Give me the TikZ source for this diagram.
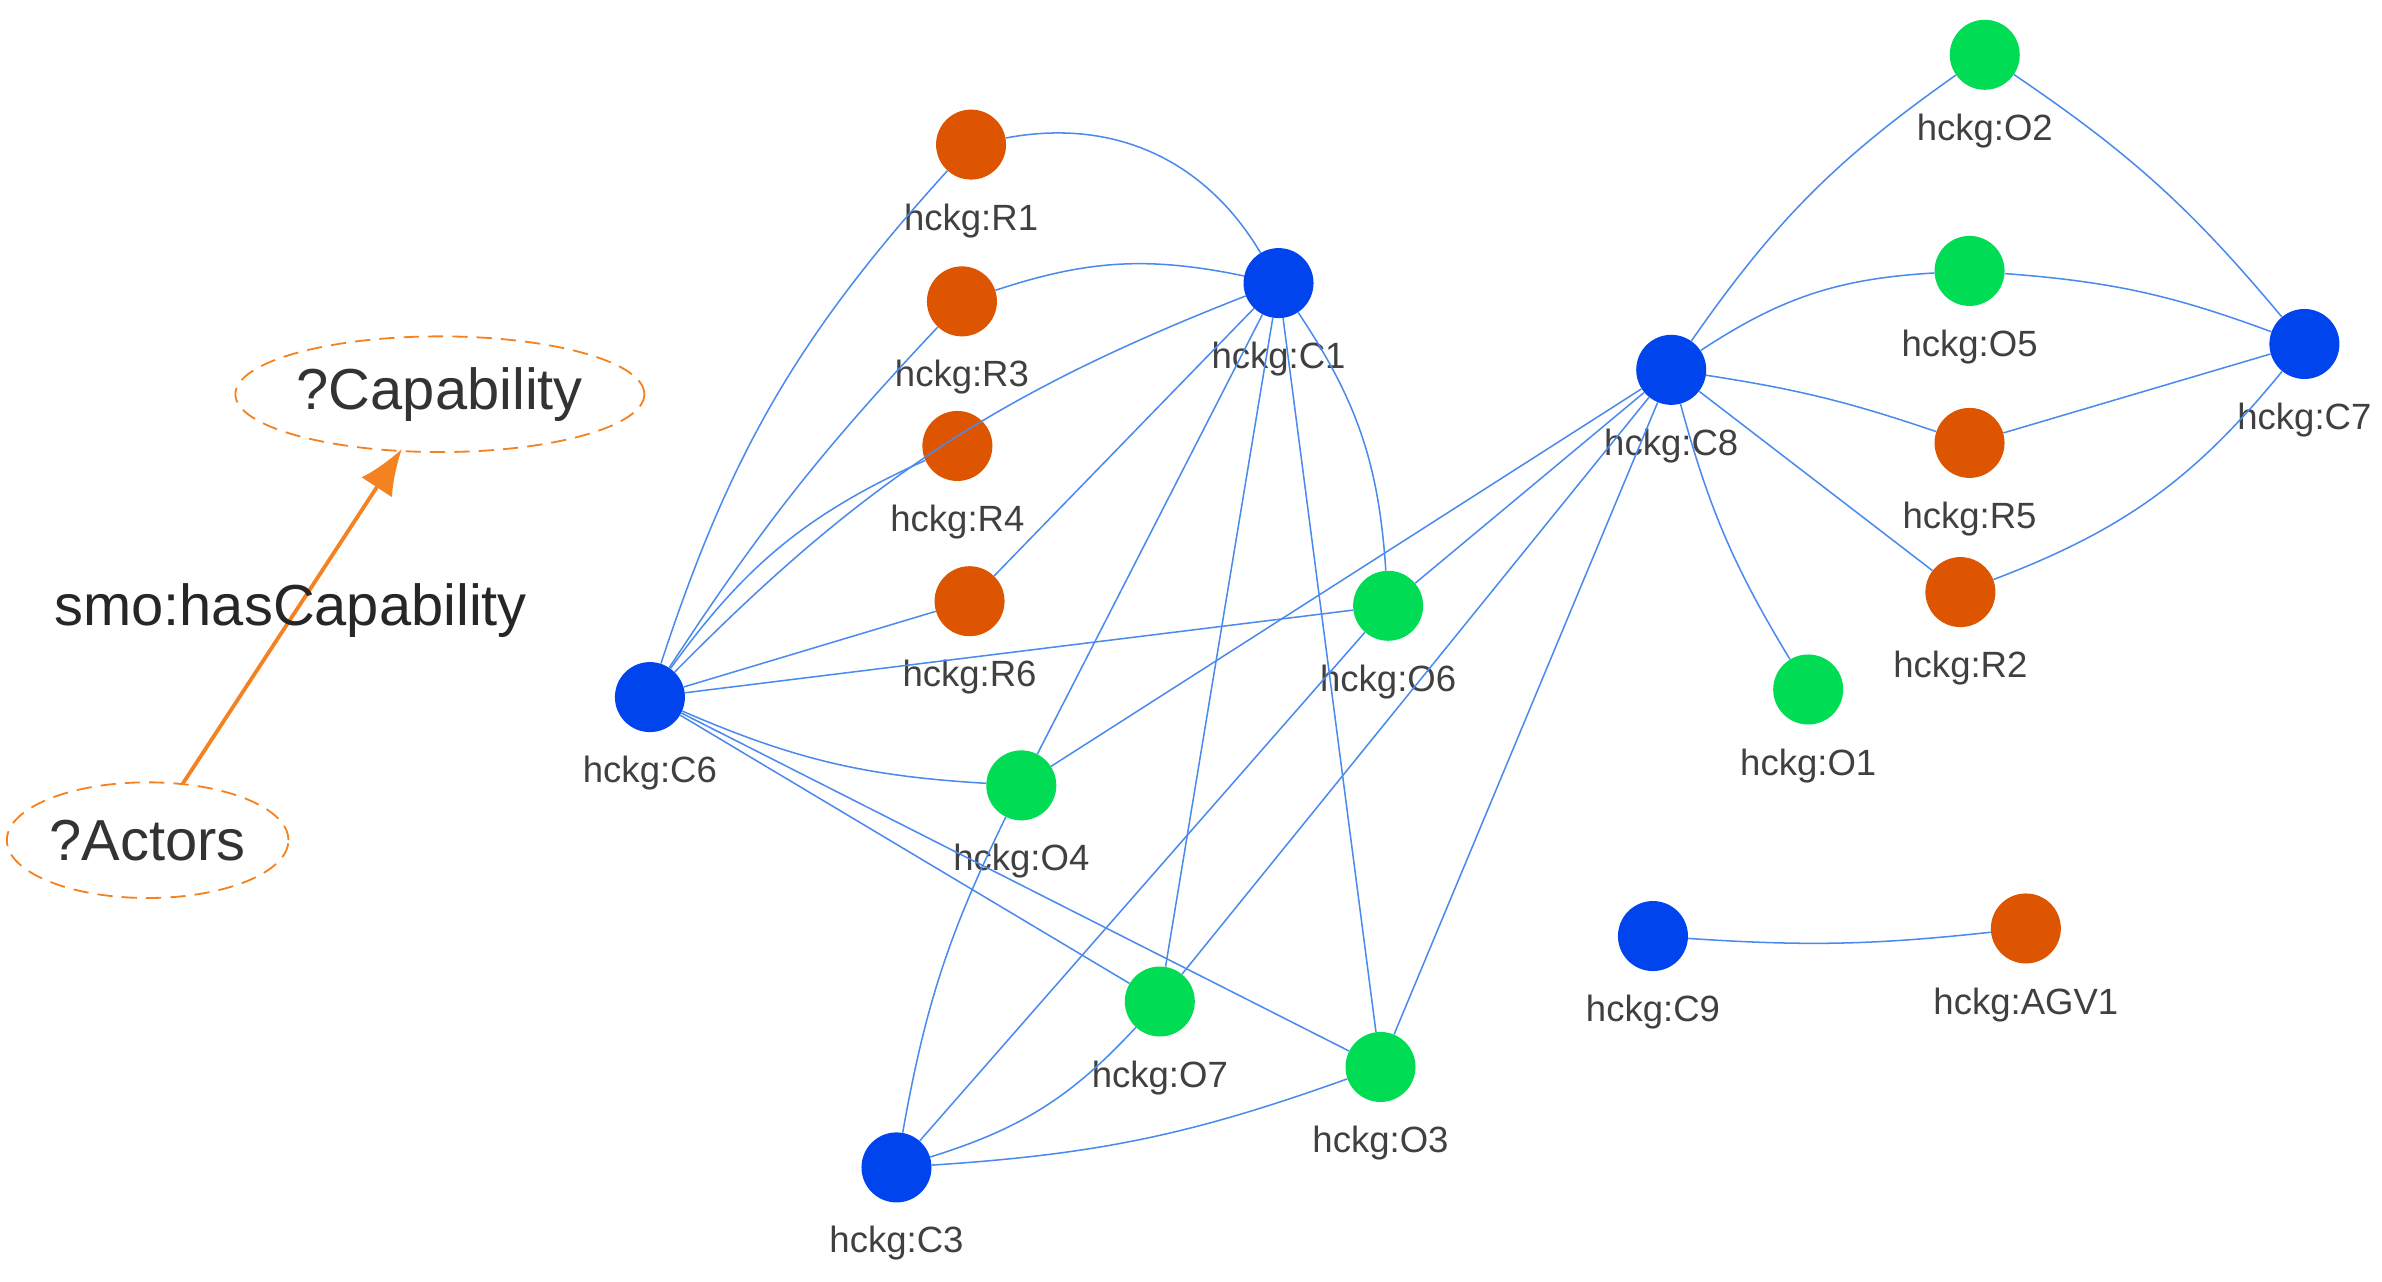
\documentclass[tikz,border=0pt]{standalone}
\usepackage{fontspec}
\setmainfont{Liberation Sans}
\usetikzlibrary{shapes.geometric,arrows.meta}
\definecolor{nb}{HTML}{0044EE}
\definecolor{ng}{HTML}{00DD55}
\definecolor{no}{HTML}{DD5500}
\definecolor{ed}{HTML}{4A8AEE}
\definecolor{lo}{HTML}{F58220}
\begin{document}
\begin{tikzpicture}[x=1pt,y=-1pt,
  n/.style={circle,minimum size=46pt,inner sep=0pt},
  B/.style={n,fill=nb},G/.style={n,fill=ng},O/.style={n,fill=no},
  lab/.style={font=\fontsize{24}{24}\selectfont,text=black!75},
  e/.style={draw=ed,line width=1pt},
  big/.style={font=\fontsize{38}{38}\selectfont,text=black!80},
  qv/.style={big,draw=lo,dash pattern=on 10pt off 6pt,ellipse,line width=1.2pt,minimum height=76pt,inner sep=1pt}]
\useasboundingbox (0,0) rectangle (1565,842);
\foreach \nm/\st/\x/\y in {R1/O/638/95,R3/O/632/198,R4/O/629/293,R6/O/637/395,C1/B/840/186,C6/B/427/458,O6/G/912/398,O4/G/671/516,O7/G/762/658,O3/G/907/701,C3/B/589/767,C8/B/1098/243,O2/G/1304/36,O5/G/1294/178,C7/B/1514/226,R5/O/1294/291,R2/O/1288/389,O1/G/1188/453,C9/B/1086/615,AGV1/O/1331/610}{
  \node[\st] (\nm) at (\x,\y) {};
  \node[lab] (\nm l) at (\x,\y+50) {hckg:\nm};
}
\draw[e] (R1) to[bend left=35] (C1);
\draw[e] (R3) to[bend left=15] (C1);
\draw[e] (C6) to[bend left=12] (R1);
\draw[e] (C6) to[bend left=5] (R3);
\draw[e] (C6) to[bend left=15] (R4);
\draw[e] (C6) -- (R6);
\draw[e] (C6) to[bend left=12] (C1);
\draw[e] (C1) -- (R6);
\draw[e] (C6) -- (O6);
\draw[e] (C6) to[bend right=10] (O4);
\draw[e] (C6) -- (O7);
\draw[e] (C6) -- (O3);
\draw[e] (C1) -- (O4);
\draw[e] (C1) -- (O7);
\draw[e] (C1) -- (O3);
\draw[e] (C1) to[bend left=15] (O6);
\draw[e] (C8) to[bend left=10] (O2);
\draw[e] (C8) to[bend left=15] (O5);
\draw[e] (C8) to[bend left=5] (R5);
\draw[e] (C8) -- (R2);
\draw[e] (C8) to[bend right=8] (O1);
\draw[e] (C8) -- (O6);
\draw[e] (C8) -- (O4);
\draw[e] (C8) -- (O7);
\draw[e] (C8) -- (O3);
\draw[e] (O2) to[bend left=8] (C7);
\draw[e] (O5) to[bend left=8] (C7);
\draw[e] (R5) -- (C7);
\draw[e] (R2) to[bend right=15] (C7);
\draw[e] (C3) to[bend left=8] (O4);
\draw[e] (C3) to[bend right=15] (O7);
\draw[e] (C3) to[bend right=8] (O3);
\draw[e] (C3) -- (O6);
\draw[e] (C9) to[bend right=5] (AGV1);
\node[qv,minimum width=230pt] (cap) at (289,259) {?Capability};
\node[qv,minimum width=170pt] (act) at (97,552) {?Actors};
\coordinate (as) at (120,515);
\coordinate (ae) at (264,295);
\draw[lo,line width=2.5pt,-{Latex[length=30pt,width=24pt]}] (as) -- (ae);
\node[big,text=black!85] (rel) at (191,401) {smo:hasCapability};
\end{tikzpicture}
\end{document}
